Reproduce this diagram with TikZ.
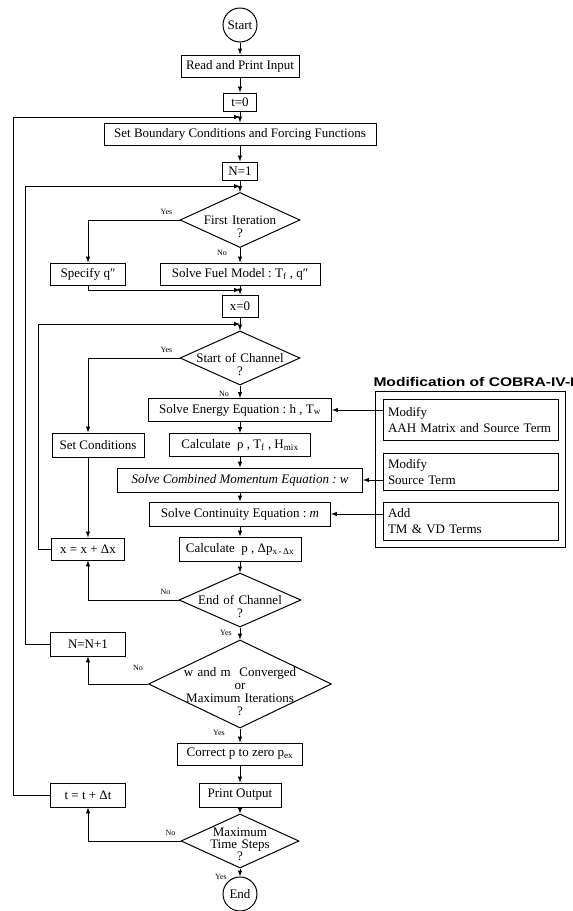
\documentclass[tikz,border=0pt]{standalone}
\usepackage{fontspec}
\setmainfont{Liberation Serif}
\setsansfont{Liberation Sans}
\usepackage{graphicx}
\usepackage{tikz}
\usetikzlibrary{arrows}
\usetikzlibrary{shapes.geometric}
\usetikzlibrary{calc}
\usetikzlibrary{fit}

\begin{document}
\begin{tikzpicture}[x=1pt,y=-1pt,>=latex,line width=1pt,
    every node/.style={font=\fontsize{13}{16}\selectfont},
    box/.style={draw,minimum height=22pt,inner sep=2pt},
    term/.style={draw,circle,minimum size=34pt,inner sep=0pt},
    test/.style={draw,diamond,aspect=2,inner sep=0pt,align=center,font=\fontsize{13}{13}\selectfont},
    modbox/.style={draw,text width=165pt,align=left,inner xsep=5pt,inner ysep=3pt},
    lbl/.style={font=\fontsize{8}{9}\selectfont,inner sep=0pt}]
  \useasboundingbox (0,0) rectangle (573,911);

  \node[term] (start) at (240,25) {Start};
  \node[box,minimum width=118pt] (read) [node distance=41pt,below of=start] {Read and Print Input};
  \node[box,minimum width=33pt,minimum height=18pt] (t0) [node distance=36pt,below of=read] {t=0};
  \node[box,minimum width=272pt] (bc) [node distance=32pt,below of=t0] {Set Boundary Conditions and Forcing Functions};
  \node[box,minimum width=35pt,minimum height=18pt] (n1) [node distance=37pt,below of=bc] {N=1};
  \node[test,minimum width=120pt,minimum height=55pt,text width=90pt,text height=8pt,text depth=0pt] (first) [node distance=49pt,below of=n1] {First Iteration\\?};
  \node[box,minimum width=160pt] (fuel) [node distance=54pt,below of=first] {Solve Fuel Model\ :\ T\textsubscript{f} , q″};
  \node[box,minimum width=75pt] (spec) [node distance=152pt,left of=fuel] {Specify q″};
  \node[box,minimum width=36pt] (x0) [node distance=32pt,below of=fuel] {x=0};
  \node[test,minimum width=120pt,minimum height=54pt,text width=90pt,text height=8pt,text depth=0pt] (soc) [node distance=52pt,below of=x0] {Start of Channel\\?};
  \node[box,minimum width=183pt,minimum height=23pt] (energy) [node distance=52pt,below of=soc] {Solve Energy Equation\ :\ h , T\textsubscript{w}};
  \node[box,minimum width=141pt,minimum height=23pt] (calc1) [node distance=35pt,below of=energy] {Calculate\ \ ρ , T\textsubscript{f} , H\textsubscript{mix}};
  \node[box,minimum width=92pt,minimum height=24pt] (setc) [node distance=142pt,left of=calc1] {Set Conditions};
  \node[box,minimum width=245pt,minimum height=24pt,font=\fontsize{13}{16}\selectfont\itshape] (mom) [node distance=35pt,below of=calc1] {Solve Combined Momentum Equation\ :\ w};
  \node[box,minimum width=181pt,minimum height=24pt] (cont) [node distance=34pt,below of=mom] {Solve Continuity Equation\ :\ \textit{m}};
  \node[box,minimum width=122pt,minimum height=24pt] (calc2) [node distance=35pt,below of=cont] {Calculate\ \ p , Δp\textsubscript{x\,-\,Δx}};
  \node[box,minimum width=73pt] (xinc) [node distance=152pt,left of=calc2] {x = x + Δx};
  \node[test,minimum width=122pt,minimum height=54pt,text width=90pt,text height=8pt,text depth=0pt] (eoc) [node distance=51pt,below of=calc2] {End of Channel\\?};
  \node[test,minimum width=183pt,minimum height=88pt,text width=120pt,text height=0pt,text depth=16pt] (conv) [node distance=84pt,below of=eoc] {w and m\ \ Converged\\or\\Maximum Iterations\\?};
  \node[box,minimum width=75pt,minimum height=24pt] (nn) at (88,644) {N=N+1};
  \node[box,minimum width=125pt] (corr) [node distance=70pt,below of=conv] {Correct p to zero p\textsubscript{ex}};
  \node[box,minimum width=82pt,minimum height=24pt] (print) [node distance=41pt,below of=corr] {Print Output};
  \node[box,minimum width=75pt,minimum height=24pt] (tinc) [node distance=152pt,left of=print] {t = t + Δt};
  \node[test,minimum width=118pt,minimum height=54pt,text width=80pt,text height=0pt,text depth=10pt,font=\fontsize{13}{12}\selectfont] (mts) [node distance=46pt,below of=print] {Maximum\\Time Steps\\?};
  \node[term] (end) [node distance=53pt,below of=mts] {End};

  \node[modbox,minimum height=41pt] (mod1) at (470.5,419.5) {Modify\\AAH Matrix and Source Term};
  \node[modbox,minimum height=37pt] (mod2) at (470.5,471.5) {Modify\\Source Term};
  \node[modbox,minimum height=38pt] (mod3) at (470.5,521) {Add\\TM \& VD Terms};
  \node[draw,line width=1.6pt,inner sep=7pt,fit=(mod1)(mod2)(mod3)] (cobra) {};
  \node[anchor=base west,inner sep=0pt,font=\fontsize{12}{14}\selectfont\sffamily\bfseries] (title) at (373,386) {\scalebox{1.3}[1.05]{Modification of COBRA-IV-I}};

  \coordinate (jt) at ($(t0.south)!0.5!(bc.north)$);
  \coordinate (jn) at ($(n1.south)!0.5!(first.north)$);
  \coordinate (jq) at ($(fuel.south)!0.5!(x0.north)$);
  \coordinate (jx) at ($(x0.south)!0.5!(soc.north)$);
  \coordinate (lt) at (13,0);
  \coordinate (ln) at (25,0);
  \coordinate (lx) at (38,0);

  \path[->] (start) edge (read)
    (read) edge (t0)
    (t0) edge (bc)
    (bc) edge (n1)
    (n1) edge (first)
    (first) edge (fuel)
    (fuel) edge (x0)
    (x0) edge (soc)
    (soc) edge (energy)
    (energy) edge (calc1)
    (calc1) edge (mom)
    (mom) edge (cont)
    (cont) edge (calc2)
    (calc2) edge (eoc)
    (eoc) edge (conv)
    (conv) edge (corr)
    (corr) edge (print)
    (print) edge (mts)
    (mts) edge (end);

  \draw[->] (first.west) -| (spec.north);
  \draw[->] (spec.south) |- (jq);
  \draw[->] (soc.west) -| (setc.north -| xinc);
  \draw[->] (setc.south -| xinc) -- (xinc);
  \draw[->] (eoc.west) -| (xinc.south);
  \draw[->] (conv.west) -| (nn.south);
  \draw[->] (mts.west) -| (tinc.south);
  \draw[->] (xinc.west) -| (lx |- jx) -- (jx);
  \draw[->] (nn.west) -| (ln |- jn) -- (jn);
  \draw[->] (tinc.west) -| (lt |- jt) -- (jt);
  \draw[->] (mod1.west |- energy) -- (energy);
  \draw[->] (mod2.west |- mom) -- (mom);
  \draw[->] (mod3.west |- cont) -- (cont);

  \node[lbl] (yes1) at ($(first.west)+(-13,-8)$) {Yes};
  \node[lbl] (no1) at ($(first.south)+(-18,5)$) {No};
  \node[lbl] (yes2) at ($(soc.west)+(-13,-8)$) {Yes};
  \node[lbl] (no2) at ($(soc.south)+(-16,8)$) {No};
  \node[lbl] (no3) at ($(eoc.west)+(-13,-8)$) {No};
  \node[lbl] (yes3) at ($(eoc.south)+(-14,5)$) {Yes};
  \node[lbl] (no4) at ($(conv.west)+(-10,-16)$) {No};
  \node[lbl] (yes4) at ($(conv.south)+(-21,4)$) {Yes};
  \node[lbl] (no5) at ($(mts.west)+(-10,-8)$) {No};
  \node[lbl] (yes5) at ($(mts.south)+(-19,8)$) {Yes};
\end{tikzpicture}
\end{document}
